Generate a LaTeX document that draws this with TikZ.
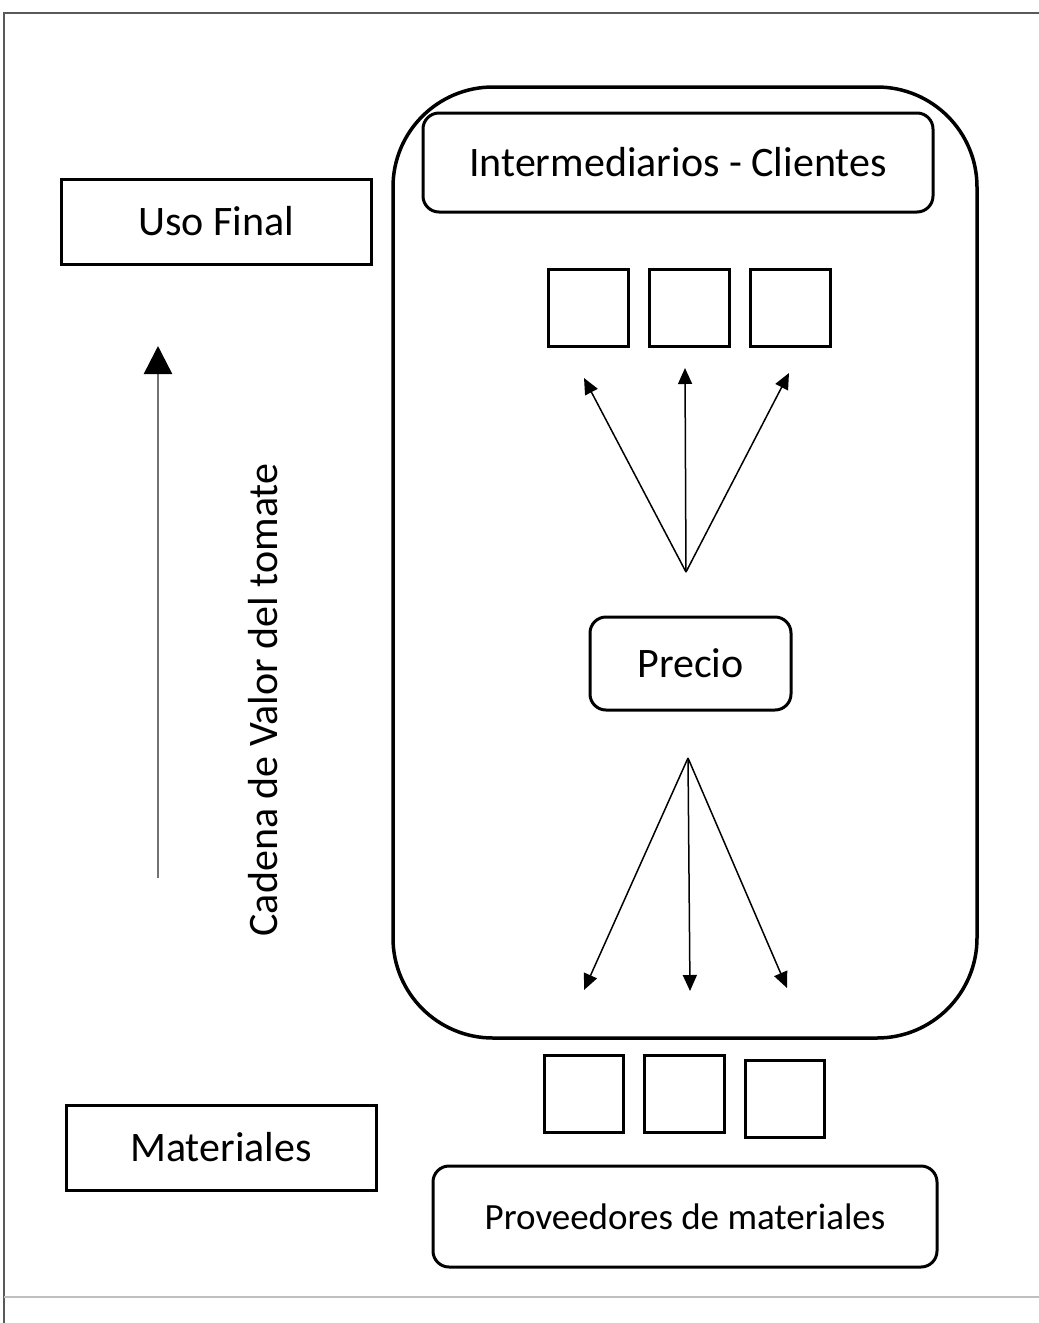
\documentclass[tikz,border=0pt]{standalone}
\usepackage{fontspec}
\setmainfont{Carlito}
\usetikzlibrary{arrows.meta}
\begin{document}
\begin{tikzpicture}[x=1pt,y=-1pt,
  sqbox/.style={draw=black,line width=3pt,inner sep=0pt,minimum width=#1},
  rbox/.style={draw=black,line width=3pt,rounded corners=16pt,inner sep=0pt},
  smallsq/.style={draw=black,line width=3pt,inner sep=0pt,minimum width=78pt,minimum height=75pt},
  bigtxt/.style={font=\fontsize{42}{48}\selectfont},
  midtxt/.style={font=\fontsize{37}{42}\selectfont},
  fan/.style={line width=1.5pt,-{Triangle[length=16pt,width=14pt]}},
]
\useasboundingbox (0,0) rectangle (1039,1323);
% frame lines
\draw[line width=2pt,draw=black!65] (4,1323) -- (4,13) -- (1039,13);
\draw[line width=2pt,draw=black!25] (4,1297) -- (1039,1297);

% big rounded container
\node[draw=black,line width=3.5pt,rounded corners=100pt,minimum width=584pt,minimum height=951pt,inner sep=0pt] (outer) at (685,562.5) {};

% left boxes
\node[sqbox=310pt,minimum height=85pt,bigtxt] (uso) at (216,221.5) {Uso Final};
\node[sqbox=310pt,minimum height=85pt,bigtxt] (mat) at (221,1147.5) {Materiales};

% inner boxes
\node[rbox,minimum width=510pt,minimum height=99pt,bigtxt] (inter) at (678,162.5) {Intermediarios - Clientes};
\node[rbox,minimum width=201pt,minimum height=93pt,bigtxt] (precio) at (690.5,663.5) {Precio};
\node[rbox,minimum width=504pt,minimum height=101pt,midtxt] (prov) at (685,1216.5) {Proveedores de materiales};

% top squares
\node[smallsq,minimum width=80pt,minimum height=77pt] (t1) at (588,307.5) {};
\node[smallsq,minimum width=80pt,minimum height=77pt] (t2) at (689,307.5) {};
\node[smallsq,minimum width=80pt,minimum height=77pt] (t3) at (790,307.5) {};
% bottom squares
\node[smallsq,minimum width=79pt,minimum height=77pt] (b1) at (583.5,1093.5) {};
\node[smallsq,minimum width=80pt,minimum height=77pt] (b2) at (684,1093.5) {};
\node[smallsq,minimum width=79pt,minimum height=77pt] (b3) at (784.5,1098.5) {};

% fan arrows upward
\coordinate (up0) at (686,572);
\coordinate (up1) at (584,378);
\coordinate (up2) at (685,368);
\coordinate (up3) at (789,373);
\draw[fan] (up0) -- (up1);
\draw[fan] (up0) -- (up2);
\draw[fan] (up0) -- (up3);

% fan arrows downward
\coordinate (dn0) at (688,758);
\coordinate (dn1) at (584,990);
\coordinate (dn2) at (690,991);
\coordinate (dn3) at (787,988);
\draw[fan] (dn0) -- (dn1);
\draw[fan] (dn0) -- (dn2);
\draw[fan] (dn0) -- (dn3);

% value chain arrow
\coordinate (vc0) at (158,878);
\coordinate (vc1) at (158,346);
\draw[line width=2.5pt,draw=black!55,-{Triangle[length=28pt,width=28pt,color=black,fill=black]}] (vc0) -- (vc1);
\node[bigtxt,rotate=90] (cadena) at (263,700) {Cadena de Valor del tomate};
\end{tikzpicture}
\end{document}
